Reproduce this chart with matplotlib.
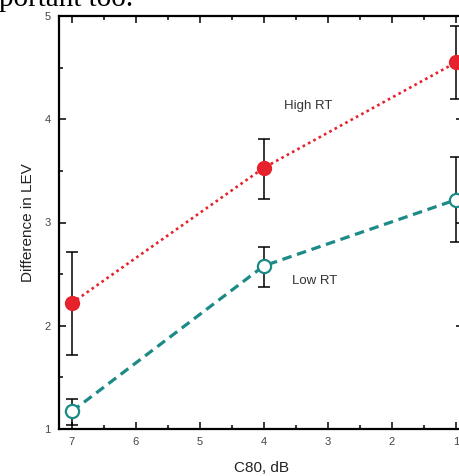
import matplotlib
matplotlib.use("Agg")
import matplotlib.pyplot as plt
from matplotlib.ticker import MultipleLocator

# C80 values (dB) and mean LEV differences with error bar limits
c80 = [7, 4, 1]
high_rt = [2.22, 3.53, 4.55]
high_rt_lo = [1.72, 3.23, 4.20]
high_rt_hi = [2.71, 3.81, 4.90]
low_rt = [1.17, 2.58, 3.22]
low_rt_lo = [1.04, 2.38, 2.81]
low_rt_hi = [1.29, 2.76, 3.63]

red = "#e6222c"
teal = "#1c8a87"

fig = plt.figure(figsize=(4.6, 4.76), dpi=100)
ax = fig.add_axes([59 / 460, 47 / 476, 404 / 460, 413 / 476])

def err(y, lo, hi):
    return [[v - l for v, l in zip(y, lo)], [h - v for v, h in zip(y, hi)]]

ax.errorbar(c80, high_rt, yerr=err(high_rt, high_rt_lo, high_rt_hi), fmt="none",
            ecolor="black", elinewidth=1.1, capsize=4, capthick=1.1, zorder=2)
ax.errorbar(c80, low_rt, yerr=err(low_rt, low_rt_lo, low_rt_hi), fmt="none",
            ecolor="black", elinewidth=1.1, capsize=4, capthick=1.1, zorder=2)

ax.plot(c80, high_rt, linestyle=(0, (1, 1.3)), color=red, lw=1.9,
        marker="o", ms=10, mfc=red, mec=red, zorder=3)
ax.plot(c80, low_rt, linestyle=(0, (3, 1.8)), color=teal, lw=2.3,
        marker="o", ms=9.5, mfc="white", mec=teal, mew=1.6, zorder=3)

ax.text(3.31, 4.13, "High RT", fontsize=9.5, color="#333333",
        family="Liberation Sans", ha="center", va="center")
ax.text(3.2, 2.43, "Low RT", fontsize=9.5, color="#333333",
        family="Liberation Sans", ha="center", va="center")

ax.set_xlim(7.2, 0.89)
ax.set_ylim(1, 5)
ax.xaxis.set_major_locator(MultipleLocator(1))
ax.xaxis.set_minor_locator(MultipleLocator(0.5))
ax.yaxis.set_major_locator(MultipleLocator(1))
ax.yaxis.set_minor_locator(MultipleLocator(0.5))
ax.tick_params(which="both", direction="in", top=True, right=True,
               width=1.1, colors="black", labelcolor="#444444",
               labelsize=8, pad=6)
ax.tick_params(which="major", length=5)
ax.tick_params(which="minor", length=3)
for s in ax.spines.values():
    s.set_linewidth(1.6)

for lab in ax.get_xticklabels() + ax.get_yticklabels():
    lab.set_family("Liberation Sans")

ax.set_xlabel("C80, dB", fontsize=11, family="Liberation Sans",
              color="#222222", labelpad=10)
ax.set_ylabel("Difference in LEV", fontsize=11, family="Liberation Sans",
              color="#222222", labelpad=7)

# tail of the caption line from the page above
fig.text(-0.002, 1 - 6 / 476, "portant too.", fontsize=21,
         family="Liberation Serif", va="baseline", ha="left")

fig.savefig("out.png", dpi=100)
